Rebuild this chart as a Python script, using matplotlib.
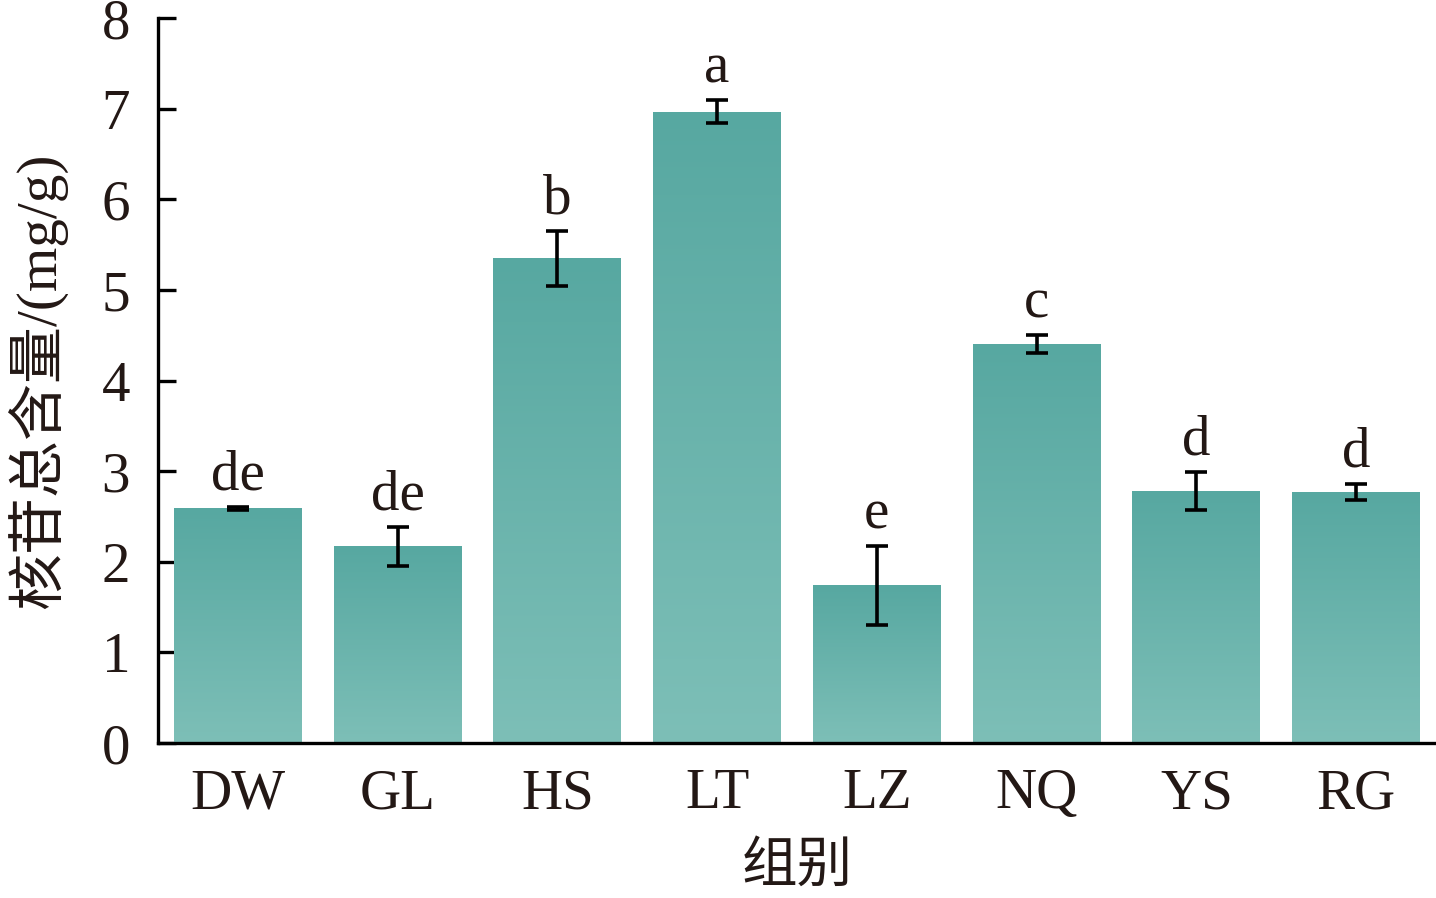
import matplotlib
matplotlib.use("Agg")
import matplotlib.pyplot as plt
import numpy as np
from matplotlib.colors import LinearSegmentedColormap

groups = ["DW", "GL", "HS", "LT", "LZ", "NQ", "YS", "RG"]
means = [2.59, 2.17, 5.35, 6.97, 1.74, 4.40, 2.78, 2.77]
errs = [0.02, 0.22, 0.30, 0.13, 0.44, 0.10, 0.21, 0.09]
letters = ["de", "de", "b", "a", "e", "c", "d", "d"]

plt.rcParams['font.family'] = ['Liberation Serif', 'Noto Sans CJK SC']

fig = plt.figure(figsize=(14.36, 8.98), dpi=100)
ax = fig.add_axes([0.110, 0.1726, 0.890, 0.807])

x = np.arange(len(groups))
bars = ax.bar(x, means, width=0.8, color='none', edgecolor='none', zorder=2)

# vertical gradient: darker at top, lighter at bottom
cmap = LinearSegmentedColormap.from_list("teal", ["#7dbfb7", "#57a8a1"])
grad = np.linspace(0, 1, 256).reshape(-1, 1)
for b in bars:
    x0, y0 = b.get_x(), b.get_y()
    w, h = b.get_width(), b.get_height()
    im = ax.imshow(grad, extent=[x0, x0 + w, y0, y0 + h], origin='lower',
                   cmap=cmap, aspect='auto', zorder=2)
    im.set_clip_path(b)

ax.errorbar(x, means, yerr=errs, fmt='none', ecolor='black', elinewidth=2.6,
            capsize=8, capthick=2.6, zorder=3)

for xi, m, e, lab in zip(x, means, errs, letters):
    ax.text(xi, m + e + 0.06, lab, ha='center', va='bottom', fontsize=41,
            color='#231815')

ax.set_xlim(-0.5, 7.5)
ax.set_ylim(0, 8)
ax.set_xticks(x)
ax.set_xticklabels(groups)
ax.set_yticks(range(0, 9))

for s in ['top', 'right']:
    ax.spines[s].set_visible(False)
for s in ['left', 'bottom']:
    ax.spines[s].set_linewidth(2.4)
    ax.spines[s].set_color('black')

ax.tick_params(axis='both', direction='in', length=13, width=2.4,
               labelsize=41, colors='black', labelcolor='#231815')
ax.tick_params(axis='y', pad=20)
ax.tick_params(axis='x', pad=18)

ax.set_xlabel("组别", fontsize=40, color='#231815', labelpad=16)
ax.set_ylabel("核苷总含量/(mg/g)", fontsize=41, color='#231815', labelpad=24)

fig.savefig("out.png", dpi=100)
